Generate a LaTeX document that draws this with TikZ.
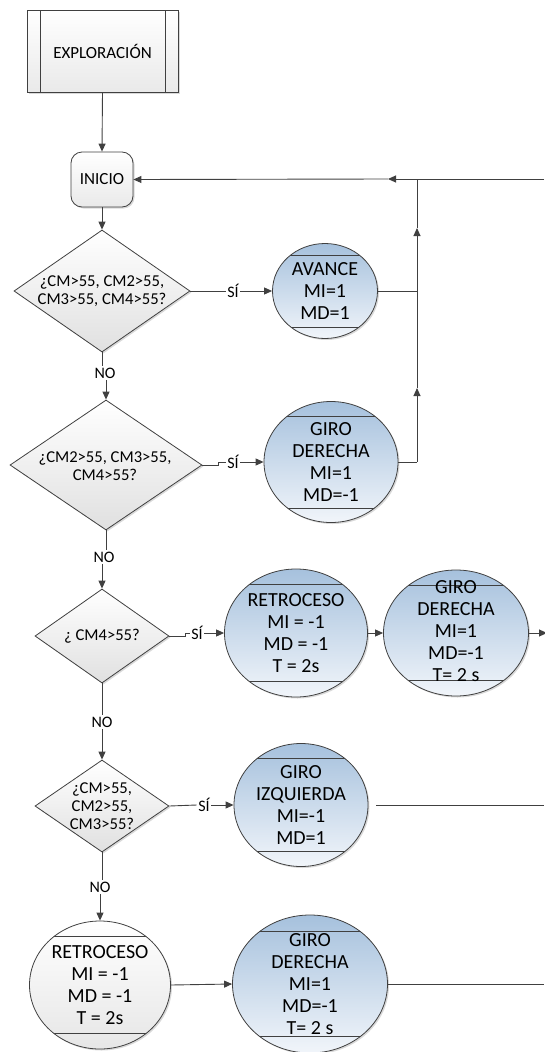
\documentclass[tikz,border=0pt]{standalone}
\usepackage{fontspec}
\setmainfont{Carlito}
\usetikzlibrary{arrows.meta,shapes.geometric,calc,shadows}
\definecolor{fclin}{HTML}{404040}
\definecolor{fcblue}{HTML}{A6C1DD}
\definecolor{fcpale}{HTML}{F1F5FA}
\definecolor{fcgray}{HTML}{E0E0E0}

\begin{document}
\begin{tikzpicture}[x=1pt,y=-1pt,
   ln/.style={draw=fclin,line width=0.9pt},
   ar/.style={ln,-{Triangle[length=8pt,width=7pt]}},
   shd/.style={drop shadow={shadow xshift=1.5pt,shadow yshift=-1.5pt,
               opacity=.3,fill=black!50}},
   sz/.style 2 args={minimum width=#1pt,minimum height=#2pt},
   subp/.style={rectangle,draw=fclin,line width=.8pt,top color=white,
                bottom color=fcgray!70,shd,inner sep=0pt,
                font=\fontsize{17}{19}\selectfont,
                path picture={
                  \draw[fclin,line width=.8pt]
                    ([xshift=13pt]path picture bounding box.north west) --
                    ([xshift=13pt]path picture bounding box.south west);
                  \draw[fclin,line width=.8pt]
                    ([xshift=-13pt]path picture bounding box.north east) --
                    ([xshift=-13pt]path picture bounding box.south east);}},
   term/.style={rectangle,rounded corners=11pt,draw=fclin,line width=.8pt,
                top color=white,bottom color=fcgray!70,shd,inner sep=0pt,
                font=\fontsize{17}{19}\selectfont},
   dec/.style={diamond,draw=fclin,line width=.8pt,top color=white,
               bottom color=fcgray,shd,inner sep=0pt},
   proc/.style={ellipse,draw=fclin,line width=.8pt,top color=fcblue,
                bottom color=fcpale,shd,inner sep=0pt,
                path picture={
                  \draw[fclin,line width=.8pt]
                    ($(path picture bounding box.north west)!.12!(path picture bounding box.south west)$) --
                    ($(path picture bounding box.north east)!.12!(path picture bounding box.south east)$);
                  \draw[fclin,line width=.8pt]
                    ($(path picture bounding box.south west)!.12!(path picture bounding box.north west)$) --
                    ($(path picture bounding box.south east)!.12!(path picture bounding box.north east)$);}},
   procw/.style={proc,top color=white,bottom color=fcgray!80},
   ptxt/.style={align=center,inner sep=0pt,font=\fontsize{20}{22}\selectfont},
   dtxt/.style={align=center,inner sep=0pt,font=\fontsize{16.6}{18}\selectfont},
   lbl/.style={fill=white,inner sep=1.5pt,font=\fontsize{16}{18}\selectfont}]
  \useasboundingbox (0,0) rectangle (544,1052);

  % start
  \node[subp,sz={151}{82}] (expl) at (102.5,51) {EXPLORACIÓN};
  \node[term,sz={62}{55}] (ini) at (102,179.5) {INICIO};
  \draw[ar] (expl.south) -- (ini.north);

  % first test
  \node[dec,sz={176}{122}] (d1) at (102,291) {};
  \node[dtxt] (d1t) at (d1) {¿CM>55, CM2>55,\\CM3>55, CM4>55?};
  \node[proc,sz={105}{95}] (av) at (325,291) {};
  \node[ptxt] (avt) at (av) {AVANCE\\MI=1\\MD=1};
  \node[lbl] (s1) at (233,291) {SÍ};
  \draw[ar] (ini.south) -- (d1.north);
  \draw[ln] (d1.east) -- (s1.west);
  \draw[ar] (s1.east) -- (av.west);

  % second test
  \node[lbl] (n1) at (105,373) {NO};
  \node[dec,sz={192}{130}] (d2) at (106,465) {};
  \node[dtxt] (d2t) at (105,466) {¿CM2>55, CM3>55,\\CM4>55?};
  \node[proc,sz={134}{121}] (gd1) at (331,462) {};
  \node[ptxt] (gd1t) at (gd1) {GIRO\\DERECHA\\MI=1\\MD=-1};
  \node[lbl] (s2) at (233,462) {SÍ};
  \draw[ln] (d1.south) -- (d1.south |- n1.north);
  \draw[ar] (n1.south -| d2.north) -- (d2.north);
  \draw[ln] (d2.east) -- ++(16,0) |- (s2.west);
  \draw[ar] (s2.east) -- (gd1.west);

  % back to INICIO
  \coordinate (rin) at (544,179);
  \coordinate (jt) at (417,179);
  \coordinate (am) at (388,179);
  \coordinate (ja) at (417,291);
  \coordinate (jg) at (417,462);
  \coordinate (au1) at (417,228);
  \coordinate (au2) at (417,388);
  \draw[ar] (rin) -- (am);
  \draw[ar] (am) -- (ini.east);
  \draw[ln] (av.east) -- (ja);
  \draw[ln] (gd1.east) -- (jg);
  \draw[ar] (jg) -- (au2);
  \draw[ar] (au2) -- (au1);
  \draw[ln] (au1) -- (jt);

  % third test
  \node[lbl] (n2) at (104,557) {NO};
  \node[dec,sz={134}{94}] (d3) at (102,636) {};
  \node[dtxt] (d3t) at (d3) {¿ CM4>55?};
  \node[proc,sz={143}{128}] (r1) at (296,633) {};
  \node[ptxt] (r1t) at (r1) {RETROCESO\\MI = -1\\MD = -1\\T = 2s};
  \node[proc,sz={145}{126}] (gd2) at (456,633) {};
  \node[ptxt] (gd2t) at (456,631) {GIRO\\DERECHA\\MI=1\\MD=-1\\T= 2 s};
  \node[lbl] (s3) at (197,633) {SÍ};
  \coordinate (o2) at (547,633);
  \draw[ln] (d2.south) -- (d2.south |- n2.north);
  \draw[ar] (n2.south -| d3.north) -- (d3.north);
  \draw[ln] (d3.east) -- ++(16,0) |- (s3.west);
  \draw[ar] (s3.east) -- (r1.west);
  \draw[ar] (r1.east) -- (gd2.west);
  \draw[ar] (gd2.east) -- (o2);

  % fourth test
  \node[lbl] (n3) at (102,722) {NO};
  \node[dec,sz={134}{92}] (d4) at (102,806) {};
  \node[dtxt] (d4t) at (d4) {¿CM>55,\\CM2>55,\\CM3>55?};
  \node[proc,sz={134}{123}] (gi) at (301,805) {};
  \node[ptxt] (git) at (gi) {GIRO\\IZQUIERDA\\MI=-1\\MD=1};
  \node[lbl] (s4) at (204,805) {SÍ};
  \coordinate (o4) at (544,805);
  \draw[ln] (d3.south) -- (d3.south |- n3.north);
  \draw[ar] (n3.south -| d4.north) -- (d4.north);
  \draw[ln] (d4.east) -- (s4.west);
  \draw[ar] (s4.east) -- (gi.west);
  \draw[ln,shorten <=8pt] (gi.east) -- (o4);

  % none of them
  \node[lbl] (n4) at (100,887) {NO};
  \node[procw,sz={141}{128}] (r2) at (100,985) {};
  \node[ptxt] (r2t) at (r2) {RETROCESO\\MI = -1\\MD = -1\\T = 2s};
  \node[proc,sz={155}{138}] (gd3) at (310,984) {};
  \node[ptxt] (gd3t) at (gd3) {GIRO\\DERECHA\\MI=1\\MD=-1\\T= 2 s};
  \coordinate (o5) at (544,984);
  \draw[ln] (d4.south) -- (d4.south |- n4.north);
  \draw[ar] (n4.south -| r2.north) -- (r2.north);
  \draw[ar] (r2.east) -- (gd3.west);
  \draw[ln] (gd3.east) -- (o5);
\end{tikzpicture}
\end{document}
